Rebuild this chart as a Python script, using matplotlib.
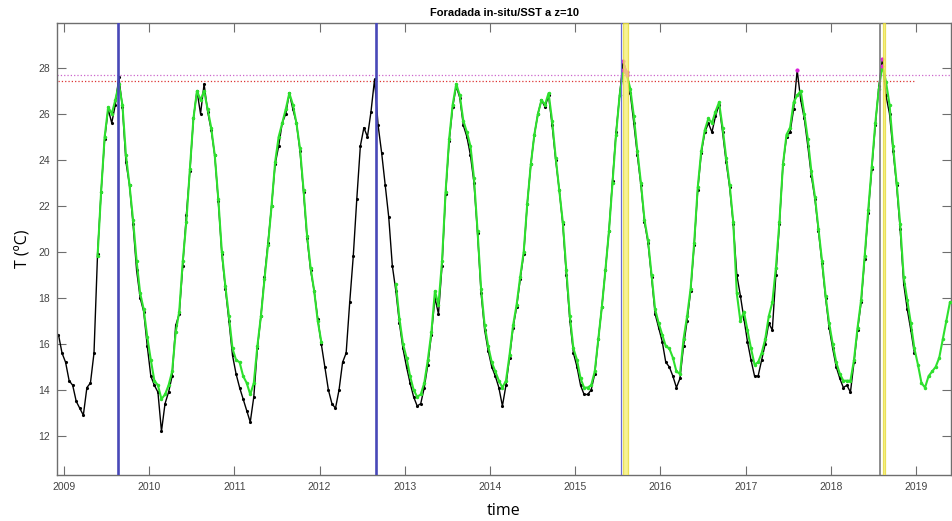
import numpy as np
import matplotlib
matplotlib.use("Agg")
import matplotlib.pyplot as plt

nan = float("nan")

# half-monthly samples, one row per year
insitu_start = 2008 + 22.5 / 24
insitu_temp = [
    16.4, 15.6,  # 2008
    15.2, 14.4, 14.2, 13.5, 13.2, 12.9, 14.1, 14.3, 15.6, 19.9, 22.6, 24.9,
    26.2, 25.6, 26.4, 27.6, 26.3, 23.9, 22.9, 21.2, 19.2, 18.0, 17.4, 15.9,  # 2009
    14.6, 14.2, 13.9, 12.2, 13.4, 13.9, 14.6, 16.8, 17.3, 19.4, 21.6, 23.5,
    25.8, 27.0, 26.0, 27.3, 26.1, 25.3, 24.2, 22.2, 19.9, 18.4, 17.0, 15.5,  # 2010
    14.7, 14.1, 13.6, 13.1, 12.6, 13.7, 15.8, 17.2, 18.9, 20.4, 22.0, 23.8,
    24.6, 25.6, 26.0, 26.9, 26.2, 25.6, 24.4, 22.6, 20.6, 19.2, 18.3, 17.1,  # 2011
    16.0, 15.0, 14.0, 13.4, 13.2, 14.0, 15.2, 15.6, 17.8, 19.8, 22.3, 24.6,
    25.4, 25.0, 26.1, 27.5, 25.5, 24.3, 22.9, 21.5, 19.4, 18.3, 16.9, 15.8,  # 2012
    15.0, 14.3, 13.7, 13.3, 13.4, 14.1, 15.1, 16.4, 18.0, 17.3, 19.4, 22.5,
    24.8, 26.3, 27.2, 26.7, 25.5, 25.0, 24.2, 23.0, 20.8, 18.2, 16.6, 15.7,  # 2013
    15.0, 14.6, 14.1, 13.3, 14.2, 15.4, 16.7, 17.6, 18.8, 19.9, 22.1, 23.8,
    25.1, 26.0, 26.6, 26.3, 26.8, 25.5, 24.0, 22.7, 21.2, 19.0, 17.0, 15.6,  # 2014
    15.0, 14.2, 13.8, 13.8, 14.0, 14.7, 16.2, 17.6, 19.2, 20.9, 23.1, 25.2,
    26.8, 28.3, 27.8, 26.9, 25.6, 24.2, 22.9, 21.3, 20.4, 18.9, 17.3, 16.7,  # 2015
    16.1, 15.2, 15.0, 14.6, 14.1, 14.5, 15.9, 17.0, 18.3, 20.3, 22.7, 24.3,
    25.2, 25.6, 25.2, 25.9, 26.4, 25.2, 23.9, 22.8, 21.2, 19.0, 18.1, 17.1,  # 2016
    16.1, 15.3, 14.6, 14.6, 15.3, 16.0, 16.9, 16.6, 19.0, 21.2, 23.8, 25.0,
    25.2, 26.2, 27.9, 26.6, 25.8, 24.6, 23.3, 22.3, 20.9, 19.5, 18.0, 16.7,  # 2017
    15.8, 15.0, 14.5, 14.1, 14.2, 13.9, 15.2, 16.6, 17.8, 19.7, 21.7, 23.6,
    25.5, 27.2, 28.4, 26.8, 26.0, 24.4, 22.9, 21.0, 18.6, 17.5, 16.6, 15.6,  # 2018
]

sst_start = 2009 + 9.5 / 24
sst_temp = [
    19.8, 22.6, 25.0,
    26.3, 26.0, 26.6, 27.3, 26.4, 24.2, 22.9, 21.4, 19.6, 18.2, 17.5, 16.3,  # 2009
    15.3, 14.4, 14.2, 13.6, 13.8, 14.2, 14.8, 16.5, 17.4, 19.6, 21.3, 23.6,
    25.8, 27.0, 26.6, 27.0, 26.2, 25.4, 24.2, 22.3, 20.0, 18.5, 17.2, 15.8,  # 2010
    15.3, 15.2, 14.6, 14.3, 13.8, 14.3, 15.9, 17.2, 18.8, 20.3, 22.0, 23.9,
    25.0, 25.6, 26.2, 26.9, 26.4, 25.6, 24.5, 22.7, 20.7, 19.3, 18.3, 17.0,  # 2011
    16.1, nan, nan, nan, nan, nan, nan, nan, nan, nan, nan, nan,
    nan, nan, nan, nan, nan, nan, nan, nan, nan, 18.6, 17.1, 16.0,  # 2012
    15.4, 14.6, 14.0, 13.7, 13.8, 14.3, 15.3, 16.5, 18.3, 17.7, 19.6, 22.6,
    24.9, 26.4, 27.3, 26.8, 25.7, 25.2, 24.6, 23.2, 20.9, 18.4, 16.8, 15.9,  # 2013
    15.2, 14.8, 14.4, 14.1, 14.4, 15.5, 16.8, 17.7, 18.9, 20.0, 22.1, 23.8,
    25.1, 26.0, 26.6, 26.4, 26.9, 25.7, 24.1, 22.7, 21.3, 19.2, 17.2, 15.8,  # 2014
    15.3, 14.5, 14.1, 14.1, 14.2, 14.8, 16.2, 17.6, 19.2, 20.9, 23.0, 25.1,
    26.8, 27.9, 27.7, 27.1, 25.9, 24.4, 23.0, 21.4, 20.5, 19.0, 17.5, 16.9,  # 2015
    16.4, 15.9, 15.8, 15.4, 14.8, 14.7, 16.2, 17.2, 18.4, 20.4, 22.8, 24.4,
    25.3, 25.8, 25.6, 26.1, 26.5, 25.4, 24.1, 22.9, 21.3, 18.2, 17.0, 17.4,  # 2016
    16.6, 15.8, 15.1, 15.2, 15.6, 16.2, 17.2, 17.8, 19.3, 21.3, 23.8, 25.1,
    25.4, 26.5, 26.8, 27.0, 26.0, 24.9, 23.5, 22.4, 21.0, 19.6, 18.1, 16.9,  # 2017
    16.0, 15.2, 14.7, 14.4, 14.4, 14.4, 15.3, 16.7, 17.9, 19.8, 21.8, 23.7,
    25.6, 27.1, 28.1, 27.4, 26.4, 24.6, 23.0, 21.2, 18.9, 17.9, 16.9, 15.8,  # 2018
    15.1, 14.3, 14.1, 14.6, 14.8, 15.0, 15.4, 16.2, 17.0, 17.8,  # 2019
]

thr_upper = 27.68
thr_lower = 27.42
event_lines = [2009.64, 2012.66]
marker_line = 2015.54
gray_line = 2018.58
yellow_spans = [(2015.56, 2015.62), (2018.615, 2018.64)]

t_insitu = insitu_start + np.arange(len(insitu_temp)) / 24
t_sst = sst_start + np.arange(len(sst_temp)) / 24
insitu = np.array(insitu_temp)
sst = np.array(sst_temp)

plt.rcParams['font.family'] = ['Liberation Sans', 'DejaVu Sans']

fig = plt.figure(figsize=(9.53, 5.21), dpi=100)
ax = fig.add_axes([0.0598, 0.0883, 0.9382, 0.8676])

ax.plot(t_insitu, insitu, '-', color='k', lw=1.0, marker='.', ms=2.5, zorder=2)
ax.plot(t_sst, sst, '-', color='#2ee02e', lw=1.5, marker='.', ms=3, zorder=3)

hot_insitu = np.where(insitu > thr_upper, insitu, nan)
hot_sst = np.where(sst > thr_upper, sst, nan)
ax.plot(t_insitu, hot_insitu, '-', color='#dd22dd', lw=1.2, marker='.', ms=4, zorder=4)
ax.plot(t_sst, hot_sst, '-', color='#dd22dd', lw=1.2, marker='.', ms=4, zorder=4)

ax.axhline(thr_upper, color='#cc66cc', ls=':', lw=0.9, zorder=1)
ax.hlines(thr_lower, t_insitu[0], t_insitu[-1], color='#dd3333', ls=':', lw=0.9, zorder=1)

for x in event_lines:
    ax.axvline(x, color='#4848b8', lw=1.9, zorder=5)
ax.axvline(marker_line, color='#6a6ad0', lw=0.9, zorder=5)
ax.axvline(gray_line, color='#7a7a7a', lw=1.2, zorder=5)
for x0, x1 in yellow_spans:
    ax.axvspan(x0, x1, facecolor='#f4ee70', edgecolor='#e6da30', lw=0.9, alpha=0.75, zorder=5)

ax.set_xlim(2008.92, 2019.41)
ax.set_ylim(10.3, 29.95)
ax.set_xticks(range(2009, 2020))
ax.set_yticks(range(12, 29, 2))

for s in ax.spines.values():
    s.set_color('#6e6e6e')
    s.set_linewidth(1.0)
ax.tick_params(direction='in', length=6.3, width=0.8, color='#6e6e6e',
               labelcolor='#444444', labelsize=7.5, top=True, right=True, pad=5)

ax.set_title('Foradada in-situ/SST a z=10', fontsize=8, fontweight='bold', pad=5)
ax.set_xlabel('time', fontsize=11.5, family=['Open Sans', 'DejaVu Sans'], labelpad=8)
ax.set_ylabel('T (ºC)', fontsize=11.5, family=['Open Sans', 'DejaVu Sans'], labelpad=5)

fig.savefig('out.png', dpi=100)
